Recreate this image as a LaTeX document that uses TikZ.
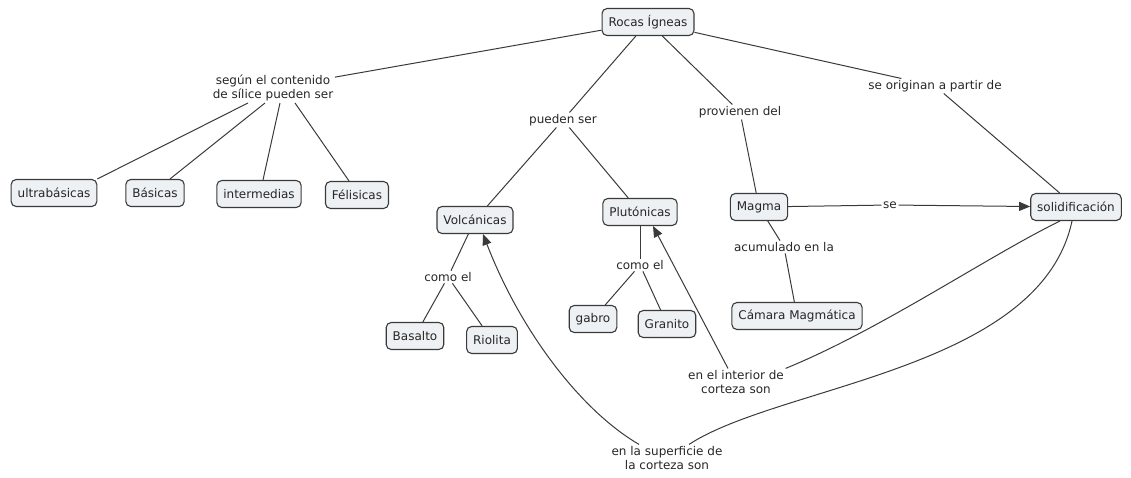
\documentclass[tikz,border=0pt]{standalone}
\usepackage{fontspec}
\setmainfont{DejaVu Sans}
\usetikzlibrary{arrows.meta}
\definecolor{boxfill}{HTML}{EDF1F3}
\definecolor{ink}{HTML}{3A3A3A}
\definecolor{txt}{HTML}{262626}
\begin{document}
\begin{tikzpicture}[x=1pt,y=-1pt,
  concept/.style={draw=ink, fill=boxfill, rounded corners=5pt, line width=1.1pt,
    minimum height=27pt, inner xsep=6.5pt, inner ysep=3pt,
    font=\fontsize{12}{13}\selectfont, text=txt},
  phrase/.style={inner sep=1.5pt, align=center,
    font=\fontsize{12}{14.5}\selectfont, text=txt},
  link/.style={draw=ink, line width=1pt},
  arr/.style={link, -{Triangle[length=11pt,width=9pt]}}]
\useasboundingbox (0,0) rectangle (1131,478);

% concepts
\node[concept] (rocas)  at (648,22)  {Rocas Ígneas};
\node[concept] (ultra)  at (54,193)  {ultrabásicas};
\node[concept] (basic)  at (155,193) {Básicas};
\node[concept] (inter)  at (259,194) {intermedias};
\node[concept] (feli)   at (357,195) {Félisicas};
\node[concept] (volc)   at (475,220) {Volcánicas};
\node[concept] (pluto)  at (640,212) {Plutónicas};
\node[concept] (magma)  at (759,207) {Magma};
\node[concept] (solid)  at (1076,207) {solidificación};
\node[concept] (camara) at (797,316) {Cámara Magmática};
\node[concept] (basalt) at (415,336) {Basalto};
\node[concept] (riol)   at (492,340) {Riolita};
\node[concept] (gabro)  at (593,319) {gabro};
\node[concept] (granit) at (667,324) {Granito};

% linking phrases
\node[phrase] (segun)  at (273,88)  {según el contenido\\de sílice pueden ser};
\node[phrase] (pueden) at (563,120) {pueden ser};
\node[phrase] (prov)   at (740,112) {provienen del};
\node[phrase] (origen) at (935,86)  {se originan a partir de};
\node[phrase] (se)     at (890,205) {se};
\node[phrase] (acum)   at (784,247) {acumulado en la};
\node[phrase] (comov)  at (448,277) {como el};
\node[phrase] (comop)  at (640,265) {como el};
\node[phrase] (inter2) at (736,382) {en el interior de\\corteza son};
\node[phrase] (superf) at (667,458) {en la superficie de\\la corteza son};

% connectors
\draw[link] (rocas) -- (segun);
\draw[link] ([xshift=-25pt]segun.south) -- (ultra.north east);
\draw[link] ([xshift=-8pt]segun.south) -- ([xshift=15pt]basic.north);
\draw[link] ([xshift=7pt]segun.south) -- ([xshift=4pt]inter.north);
\draw[link] ([xshift=22pt]segun.south) -- ([xshift=-8pt]feli.north);

\draw[link] (rocas) -- (pueden);
\draw[link] (pueden) -- (volc);
\draw[link] (pueden) -- (pluto);
\draw[link] (rocas) -- (prov);
\draw[link] (prov) -- (magma);
\draw[link] (rocas) -- (origen);
\draw[link] (origen) -- (solid);

\draw[link] (magma) -- (se);
\draw[arr] (se) -- (solid);
\draw[link] (magma) -- (acum);
\draw[link] (acum) -- (camara);

\draw[link] (volc) -- (comov);
\draw[link] (comov) -- (basalt);
\draw[link] (comov) -- (riol);
\draw[link] (pluto) -- (comop);
\draw[link] (comop) -- (gabro);
\draw[link] (comop) -- (granit);

\draw[link] ([xshift=-16pt]solid.south) .. controls (990,255) and (880,330) .. (inter2.north east);
\draw[arr] ([xshift=-8pt]inter2.north) -- ([xshift=13pt]pluto.south);
\draw[link] ([xshift=-4pt]solid.south) .. controls (1040,370) and (780,385) .. ([xshift=22pt]superf.north);
\draw[arr] ([xshift=-28pt]superf.north) .. controls (580,410) and (520,330) .. ([xshift=8pt]volc.south);
\end{tikzpicture}
\end{document}
